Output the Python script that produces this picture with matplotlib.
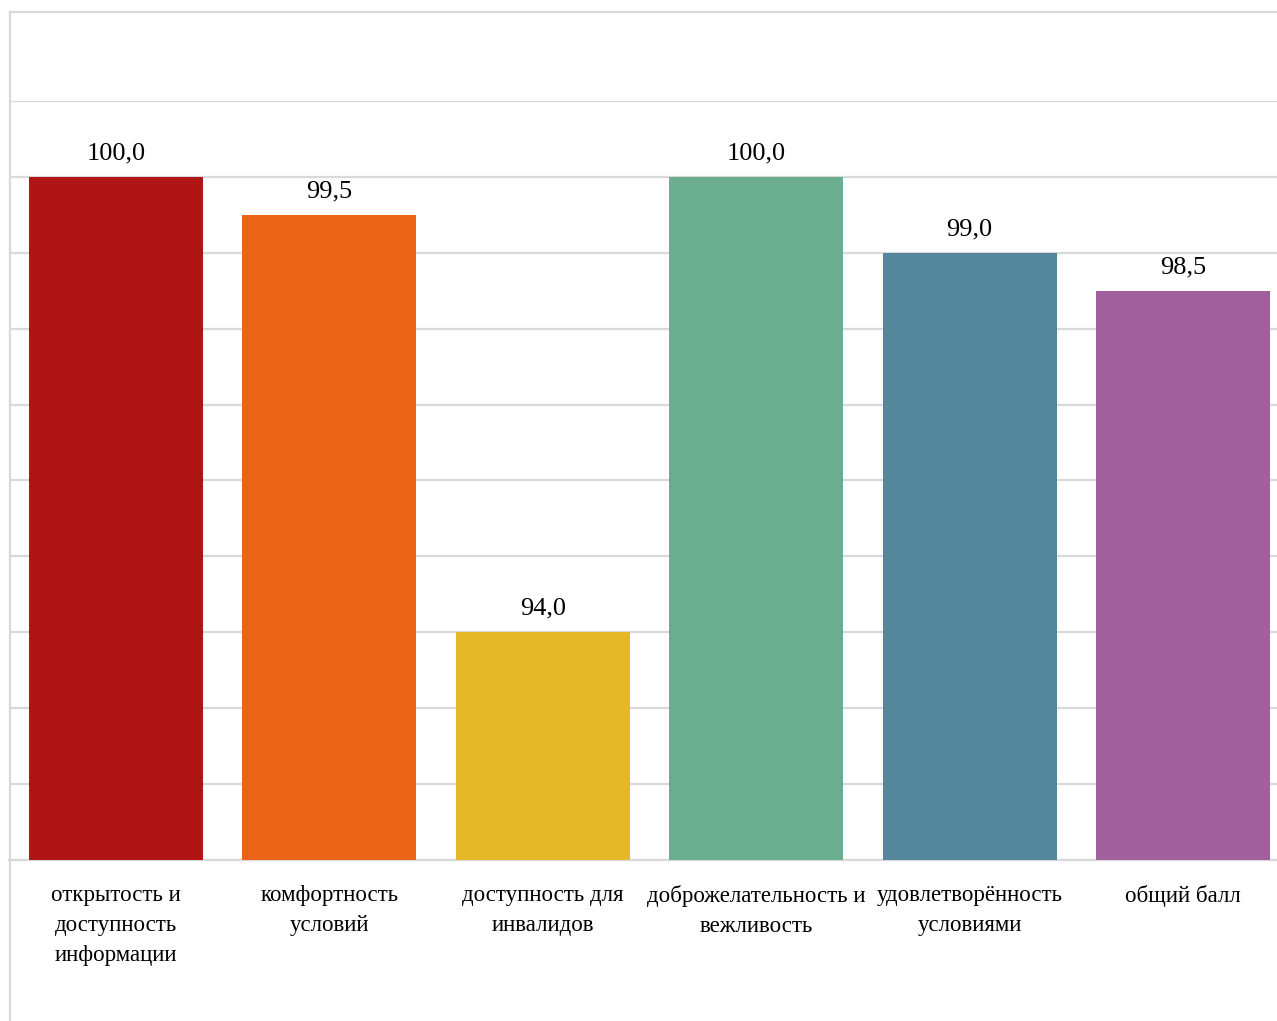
import matplotlib.pyplot as plt
from matplotlib.lines import Line2D

categories = [
    'открытость и\nдоступность\nинформации',
    'комфортность\nусловий',
    'доступность для\nинвалидов',
    'доброжелательность и\nвежливость',
    'удовлетворённость\nусловиями',
    'общий балл',
]
values = [100.0, 99.5, 94.0, 100.0, 99.0, 98.5]
colors = ['#B01515', '#E96414', '#E5B82A', '#6AAE8F', '#55879C', '#A0609C']

plt.rcParams['font.family'] = ['Liberation Serif', 'DejaVu Serif']

W, H = 1277, 1021
fig = plt.figure(figsize=(W / 100, H / 100), dpi=100)
grid_col = '#d9d9d9'

# plot area: left edge at x=10 px, right edge runs past the image
ax = fig.add_axes([9.3 / W, 161 / H, 1280.4 / W, 759 / H])
x = list(range(len(values)))
ax.bar(x, values, width=0.815, color=colors, zorder=3)
ax.set_xlim(-0.5, len(values) - 0.5)
ax.set_ylim(91, 101)
ax.set_yticks(range(91, 102))
ax.yaxis.grid(True, color=grid_col, linewidth=1.6, zorder=0)
ax.tick_params(axis='y', left=False, labelleft=False)
ax.tick_params(axis='x', length=0, pad=18)
ax.set_xticks(x)
ax.set_xticklabels(categories, fontsize=16.5, linespacing=1.55, va='top')
for s in ['top', 'right', 'left']:
    ax.spines[s].set_visible(False)
ax.spines['bottom'].set_color(grid_col)
ax.spines['bottom'].set_linewidth(1.6)

for xi, v in zip(x, values):
    ax.annotate(f'{v:.1f}'.replace('.', ','), (xi, v), xytext=(0, 9),
                textcoords='offset points', ha='center', va='bottom',
                fontsize=19, color='black')

# chart area border (top and left only are visible)
fig.add_artist(Line2D([10 / W, 10 / W], [0, 1 - 12 / H], color=grid_col,
                      linewidth=1.6, transform=fig.transFigure))
fig.add_artist(Line2D([10 / W, 1], [1 - 12 / H, 1 - 12 / H], color=grid_col,
                      linewidth=1.6, transform=fig.transFigure))

fig.savefig('out.png', dpi=100, facecolor='white')
